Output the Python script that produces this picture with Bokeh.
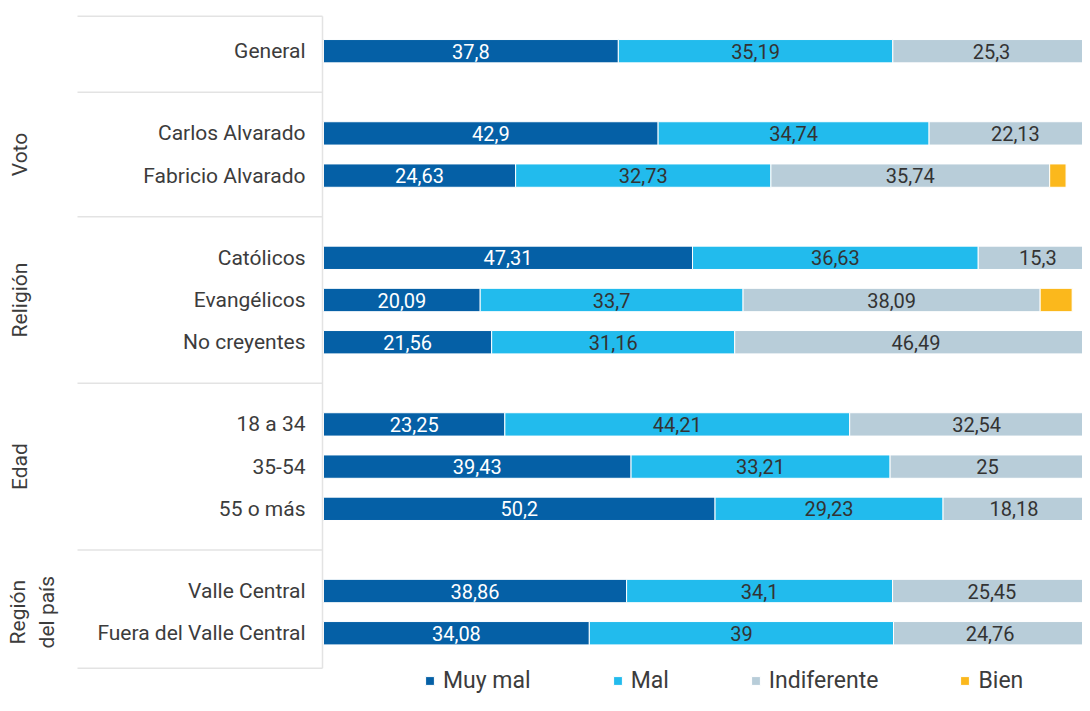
import math
from bokeh.plotting import figure
from bokeh.models import Range1d, Legend, LegendItem, ColumnDataSource
from bokeh.core.properties import value
from bokeh.embed import file_html
from bokeh.resources import INLINE

# ---------------- data ----------------
categories = ["General", "Carlos Alvarado", "Fabricio Alvarado", "Católicos",
              "Evangélicos", "No creyentes", "18 a 34", "35-54", "55 o más",
              "Valle Central", "Fuera del Valle Central"]
groups = ["", "Voto", "Voto", "Religión", "Religión", "Religión",
          "Edad", "Edad", "Edad", "Región\ndel país", "Región\ndel país"]
muy_mal = [37.8, 42.9, 24.63, 47.31, 20.09, 21.56, 23.25, 39.43, 50.2, 38.86, 34.08]
mal = [35.19, 34.74, 32.73, 36.63, 33.7, 31.16, 44.21, 33.21, 29.23, 34.1, 39]
indiferente = [25.3, 22.13, 35.74, 15.3, 38.09, 46.49, 32.54, 25, 18.18, 25.45, 24.76]
bien = [1.0, 0.2, 2.1, 0.5, 4.1, 0.5, 0.0, 1.2, 0.0, 1.0, 1.2]
series_names = ["Muy mal", "Mal", "Indiferente", "Bien"]
series_keys = ["muy_mal", "mal", "indiferente", "bien"]
colors = ["#0560a6", "#22bbed", "#b8cdd9", "#fbb81c"]
label_colors = ["white", "#333333", "#333333", None]

# ---------------- layout ----------------
W, H = 1082, 695
X0_PX = 323          # canvas px where value 0 sits
PX_PER_UNIT = 7.8
SLOT_PX = 42.2
TOP_PX = 50.7        # first row centre below canvas top
GAP = 1.948          # slot distance between groups
BAR_H = 0.553
FONT = "Roboto"
TXT = "#3c3c3c"
LINE = "#e3e3e3"

def px2x(px):
    return (px - X0_PX) / PX_PER_UNIT

ys, seps = [], []
for i, g in enumerate(groups):
    if i == 0:
        ys.append(0.0)
    elif g != groups[i - 1]:
        seps.append(ys[-1] + GAP / 2)
        ys.append(ys[-1] + GAP)
    else:
        ys.append(ys[-1] + 1.0)
top_b = ys[0] - 0.83
bot_b = ys[-1] + 0.83

p = figure(width=W, height=H, output_backend="svg", toolbar_location=None,
           x_range=Range1d(-X0_PX / PX_PER_UNIT, (W - X0_PX) / PX_PER_UNIT),
           y_range=Range1d((H - TOP_PX) / SLOT_PX, -TOP_PX / SLOT_PX),
           min_border=0, x_axis_type=None, y_axis_type=None)
p.outline_line_color = None
p.xgrid.visible = False
p.ygrid.visible = False
p.background_fill_color = "white"

data = dict(y=ys, cat=categories, muy_mal=muy_mal, mal=mal,
            indiferente=indiferente, bien=bien)
src = ColumnDataSource(data)
renderers = p.hbar_stack(series_keys, y="y", height=BAR_H, color=colors,
                         line_color="white", line_width=1, source=src)

# value labels
left = [0.0] * len(categories)
for key, vals, lc in zip(series_keys, [muy_mal, mal, indiferente, bien], label_colors):
    if lc is not None:
        xs = [l + v / 2 for l, v in zip(left, vals)]
        txt = [f"{v:g}".replace(".", ",") for v in vals]
        p.text(x=xs, y=ys, text=txt, text_align="center", text_baseline="middle",
               text_font=value(FONT), text_font_size="20px", text_color=lc)
    left = [l + v for l, v in zip(left, vals)]

# category labels
p.text(x=[0] * len(categories), y=ys, text=categories, x_offset=-18,
       text_align="right", text_baseline="middle", text_font=value(FONT),
       text_font_size="21px", text_color=TXT)

# group labels
seen = []
for g in groups:
    if g and g not in seen:
        seen.append(g)
for g in seen:
    gy = [y for y, gg in zip(ys, groups) if gg == g]
    cy = sum(gy) / len(gy)
    nlines = g.count("\n") + 1
    cx = 19 + 13 * (nlines - 1)
    p.text(x=[0], y=[cy], text=[g], x_offset=-(X0_PX - cx), angle=math.pi / 2,
           text_align="center", text_baseline="middle", text_font=value(FONT),
           text_font_size="21px", text_color=TXT, text_line_height=1.2)

# separators & axis line
sep_ys = [top_b] + seps + [bot_b]
p.segment(x0=[px2x(77)] * len(sep_ys), x1=[px2x(322)] * len(sep_ys),
          y0=sep_ys, y1=sep_ys, line_color=LINE, line_width=1.5)
p.segment(x0=[px2x(322)], x1=[px2x(322)], y0=[top_b], y1=[bot_b],
          line_color=LINE, line_width=1.5)

legend = Legend(items=[LegendItem(label=n, renderers=[r])
                       for n, r in zip(series_names, renderers)],
                orientation="horizontal", location=(424, 1))
legend.background_fill_alpha = 0
legend.border_line_color = None
legend.padding = 0
legend.margin = 0
legend.spacing = 81
legend.glyph_width = 11
legend.glyph_height = 11
legend.label_standoff = 8
legend.label_text_font = FONT
legend.label_text_font_size = "23px"
legend.label_text_color = TXT
p.add_layout(legend)

open("out.html", "w").write(file_html(p, INLINE))
